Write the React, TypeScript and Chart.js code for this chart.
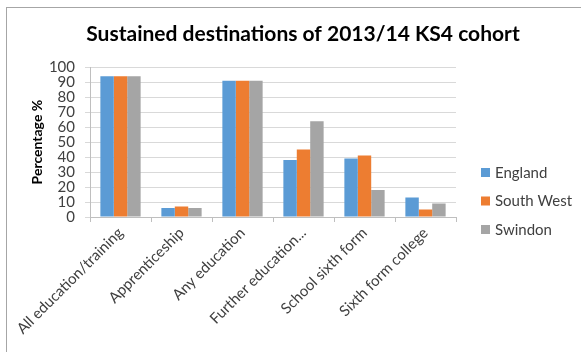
import React, { useEffect, useRef } from "react";
import { Chart, registerables } from "chart.js";

Chart.register(...registerables);

const categories = [
  "All education/training",
  "Apprenticeship",
  "Any education",
  "Further education...",
  "School sixth form",
  "Sixth form college",
];
const england = [94, 6, 91, 38, 39, 13];
const southWest = [94, 7, 91, 45, 41, 5];
const swindon = [94, 6, 91, 64, 18, 9];
const yTicks = [0, 10, 20, 30, 40, 50, 60, 70, 80, 90, 100];

const FONT = "Lato, 'Liberation Sans', sans-serif";

const legendPlugin = {
  id: "customLegend",
  afterDraw(chart: any) {
    const { ctx, chartArea } = chart;
    const x = chartArea.right + 25;
    const mid = chartArea.bottom - 16;
    const gap = 28.5;
    ctx.save();
    ctx.font = `15px ${FONT}`;
    ctx.textBaseline = "middle";
    ctx.textAlign = "left";
    chart.data.datasets.forEach((ds: any, i: number) => {
      const y = mid + (i - 1) * gap;
      ctx.fillStyle = ds.backgroundColor;
      ctx.fillRect(x, y - 4.5, 9, 9);
      ctx.fillStyle = "#404040";
      ctx.fillText(ds.label, x + 14, y + 0.5);
    });
    ctx.restore();
  },
};

export default function App() {
  const ref = useRef<HTMLCanvasElement | null>(null);
  useEffect(() => {
    if (!ref.current) return;
    const chart = new Chart(ref.current, {
      type: "bar",
      data: {
        labels: categories,
        datasets: [
          { label: "England", data: england, backgroundColor: "#5B9BD5", yAxisID: "y" },
          { label: "South West", data: southWest, backgroundColor: "#ED7D31", yAxisID: "y" },
          { label: "Swindon", data: swindon, backgroundColor: "#A5A5A5", yAxisID: "y" },
        ],
      },
      options: {
        animation: false,
        responsive: false,
        layout: { padding: { left: 25, right: 0, top: 0, bottom: 0 } },
        datasets: { bar: { categoryPercentage: 0.66, barPercentage: 1 } },
        plugins: {
          legend: { display: false },
          tooltip: { enabled: false },
          title: {
            display: true,
            text: "Sustained destinations of 2013/14 KS4 cohort",
            color: "#000",
            font: { family: FONT, size: 21, weight: "bold" },
            padding: { top: 22, bottom: 20 },
          },
        },
        scales: {
          x: {
            grid: {
              drawOnChartArea: false,
              drawTicks: true,
              tickLength: 5,
              color: "#bfbfbf",
              offset: true,
            },
            border: { color: "#bfbfbf" },
            ticks: {
              color: "#404040",
              font: { family: FONT, size: 15 },
              maxRotation: 45,
              minRotation: 45,
              autoSkip: false,
              padding: 2,
            },
            afterFit: (s: any) => {
              s.height = 135;
              s.paddingLeft = 0;
              s.paddingRight = 0;
            },
          },
          y: {
            min: 0,
            max: 100,
            afterBuildTicks: (s: any) => {
              s.ticks = yTicks.map((v) => ({ value: v }));
            },
            grid: { color: "#d9d9d9", tickLength: 5 },
            border: { color: "#bfbfbf" },
            ticks: {
              color: "#404040",
              font: { family: FONT, size: 15 },
              padding: 10,
              autoSkip: false,
            },
            title: {
              display: true,
              text: "Percentage %",
              color: "#000",
              font: { family: FONT, size: 14, weight: "bold" },
              padding: 4,
            },
            afterFit: (s: any) => {
              s.width = 65;
              s.paddingTop = 0;
              s.paddingBottom = 0;
            },
          },
          legendSpace: {
            position: "right",
            display: true,
            min: 0,
            max: 1,
            grid: { drawOnChartArea: false, drawTicks: false },
            border: { display: false },
            ticks: { display: false },
            afterFit: (s: any) => {
              s.width = 125;
              s.paddingTop = 0;
              s.paddingBottom = 0;
            },
          },
        },
      },
      plugins: [legendPlugin],
    });
    return () => chart.destroy();
  }, []);
  return (
    <div
      style={{
        position: "absolute",
        left: 0,
        top: 0,
        width: 581,
        height: 352,
        background: "#fff",
        overflow: "hidden",
      }}
    >
      <div
        style={{
          position: "absolute",
          left: 6,
          top: 7,
          width: 600,
          height: 400,
          borderLeft: "1px solid #a6a6a6",
          borderTop: "1px solid #a6a6a6",
        }}
      />
      <canvas
        ref={ref}
        width={581}
        height={352}
        style={{ position: "absolute", left: 0, top: 0, width: 581, height: 352 }}
      />
    </div>
  );
}
